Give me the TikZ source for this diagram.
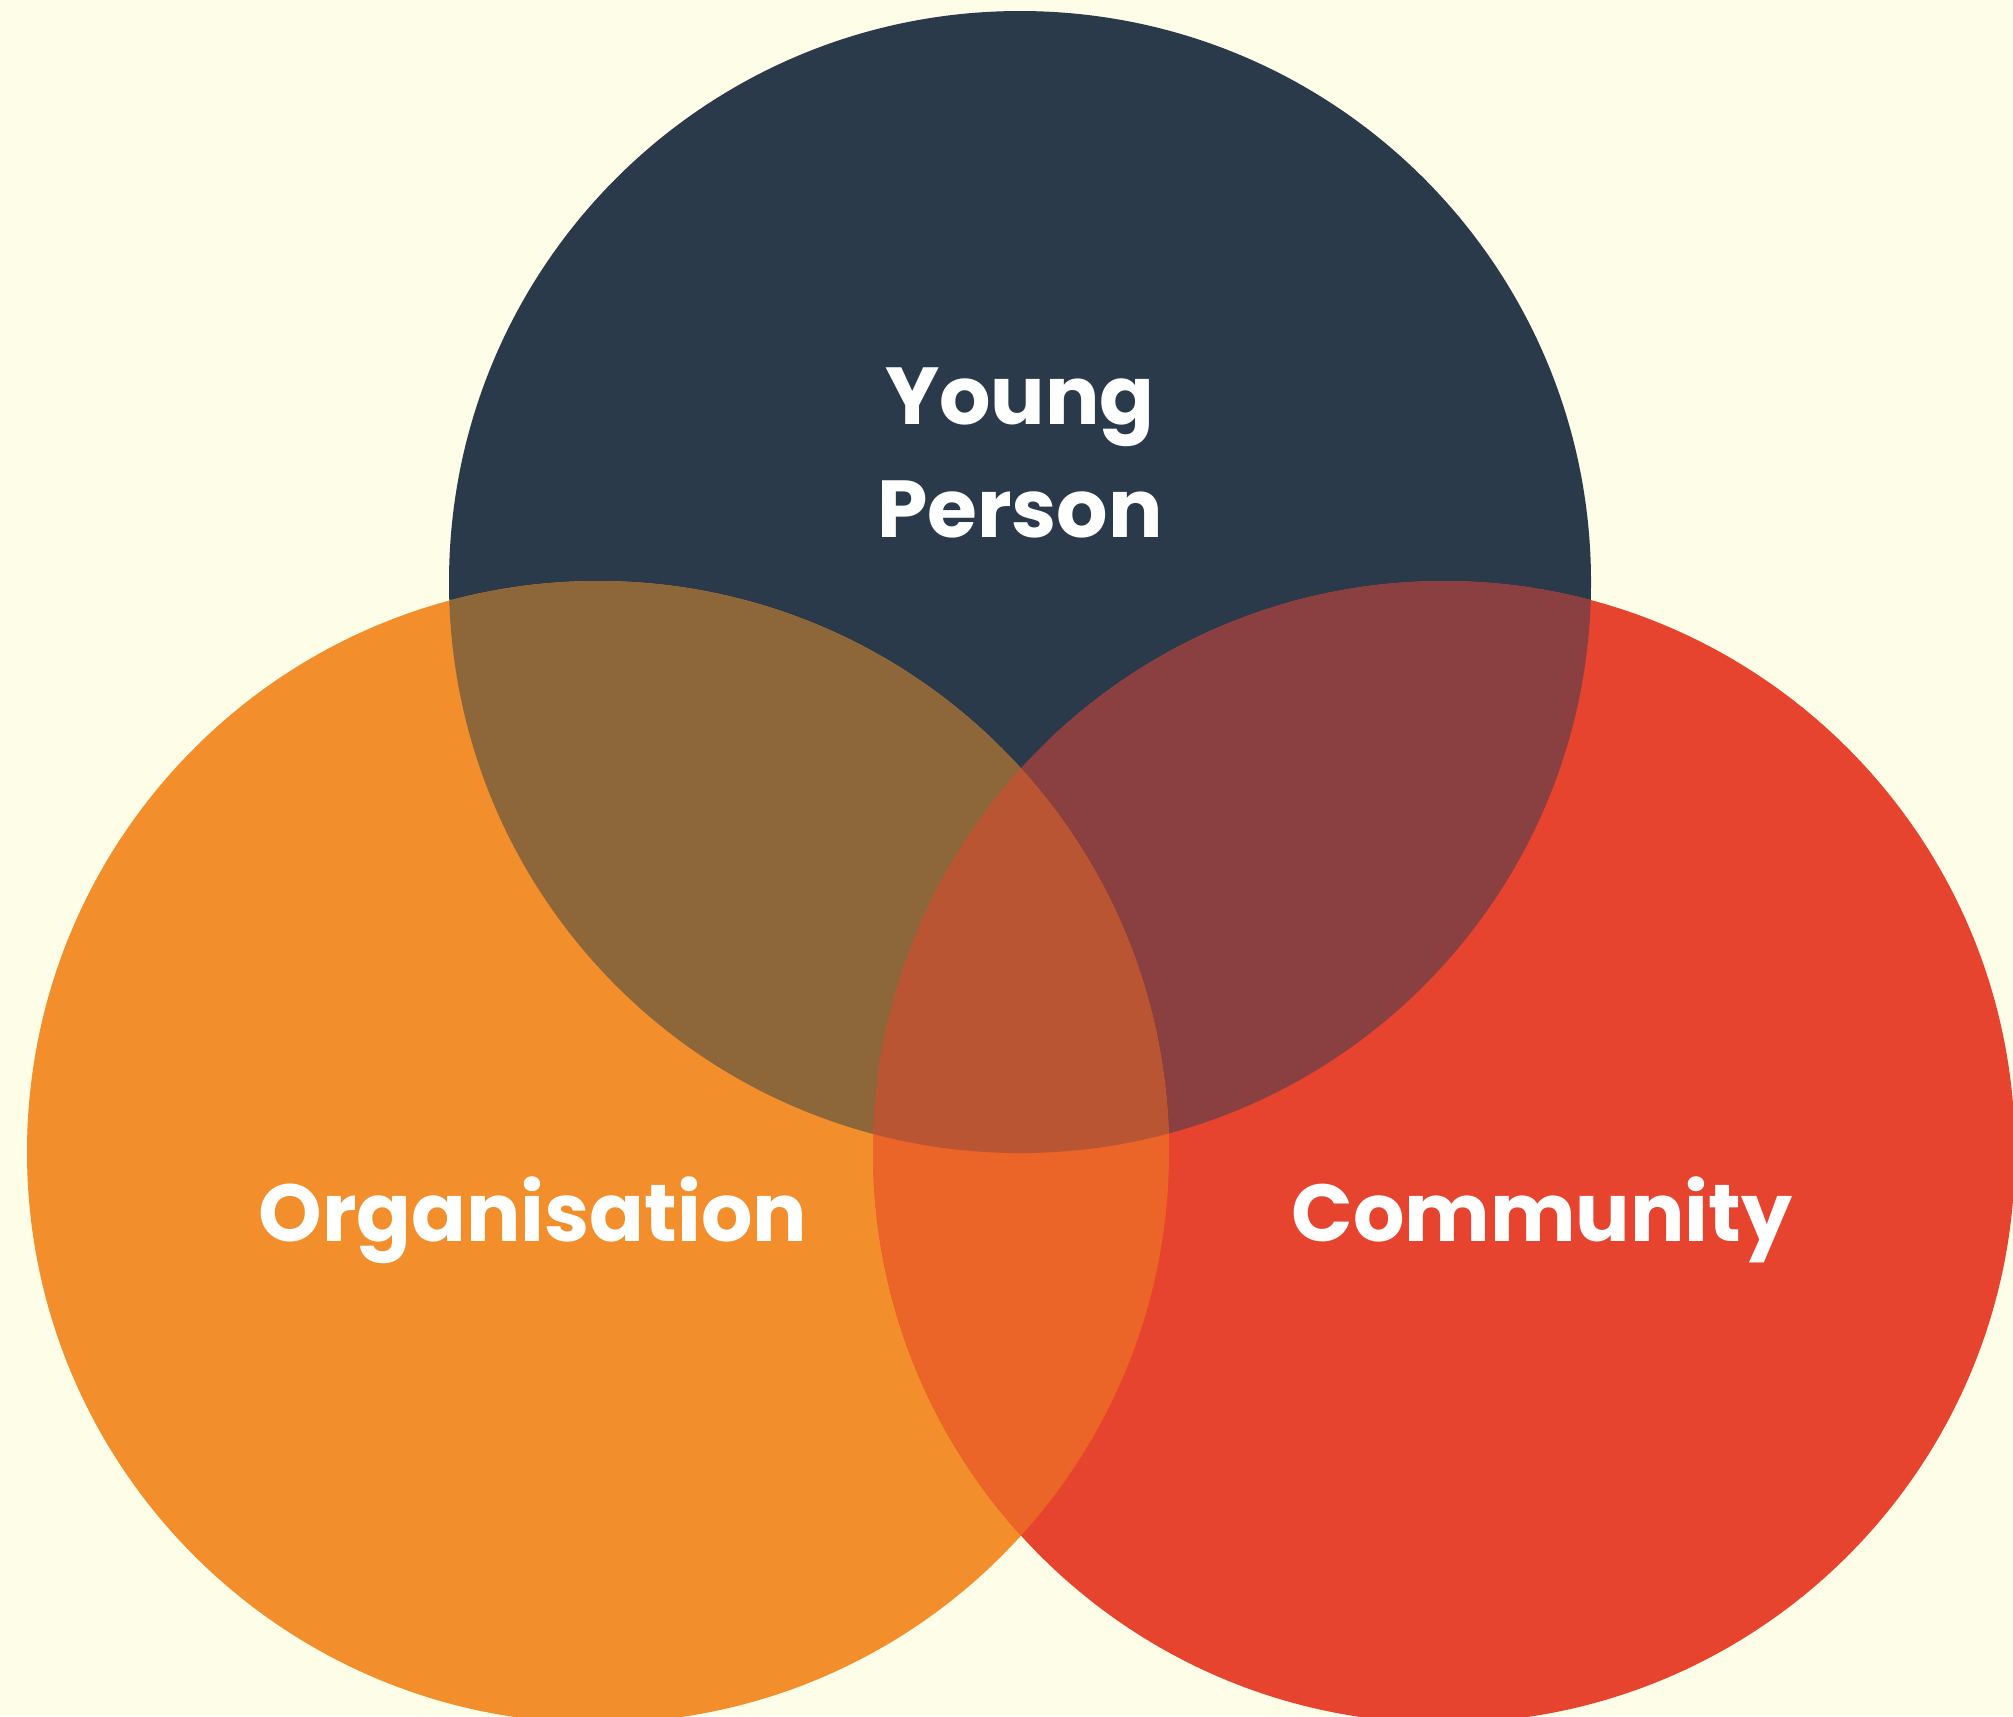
\documentclass[tikz,border=0pt]{standalone}
\usepackage{fontspec}
\setmainfont{Poppins}
\definecolor{paper}{HTML}{FEFDE8}
\definecolor{navy}{HTML}{2B3A4A}
\definecolor{orng}{HTML}{F28E2B}
\definecolor{rd}{HTML}{E6442E}
\definecolor{navyorng}{HTML}{8D663A}
\definecolor{navyrd}{HTML}{8A3F40}
\definecolor{orngrd}{HTML}{EB6529}
\definecolor{allthree}{HTML}{BA5534}

\begin{document}
\begin{tikzpicture}[
    set/.style ={circle, inner sep=0pt, minimum size=11.42cm},
    setname/.style ={text=white, font=\fontsize{23}{31.9}\selectfont\bfseries, align=center, anchor=base}]
   \fill[paper] (0,0) rectangle (20.13,-17.16);
   \useasboundingbox (0,0) rectangle (20.13,-17.16);

   \node[set, fill=navy] (Y) at (10.20,-5.82)  {};
   \node[set, fill=orng] (O) at (5.98,-11.52)  {};
   \node[set, fill=rd]   (C) at (14.44,-11.52) {};

   % overlaps
   \begin{scope}
     \clip (Y.center) circle (5.71);
     \fill[navyorng] (O.center) circle (5.71);
     \fill[navyrd] (C.center) circle (5.71);
   \end{scope}
   \begin{scope}
     \clip (O.center) circle (5.71);
     \fill[orngrd] (C.center) circle (5.71);
     \clip (C.center) circle (5.71);
     \fill[allthree] (Y.center) circle (5.71);
   \end{scope}

   \node[setname] (young) at (10.20,-5.37) {Young\\Person};
   \node[setname] (org)   at (5.33,-12.41) {Organisation};
   \node[setname] (comm)  at (15.42,-12.41) {Community};
\end{tikzpicture}
\end{document}
